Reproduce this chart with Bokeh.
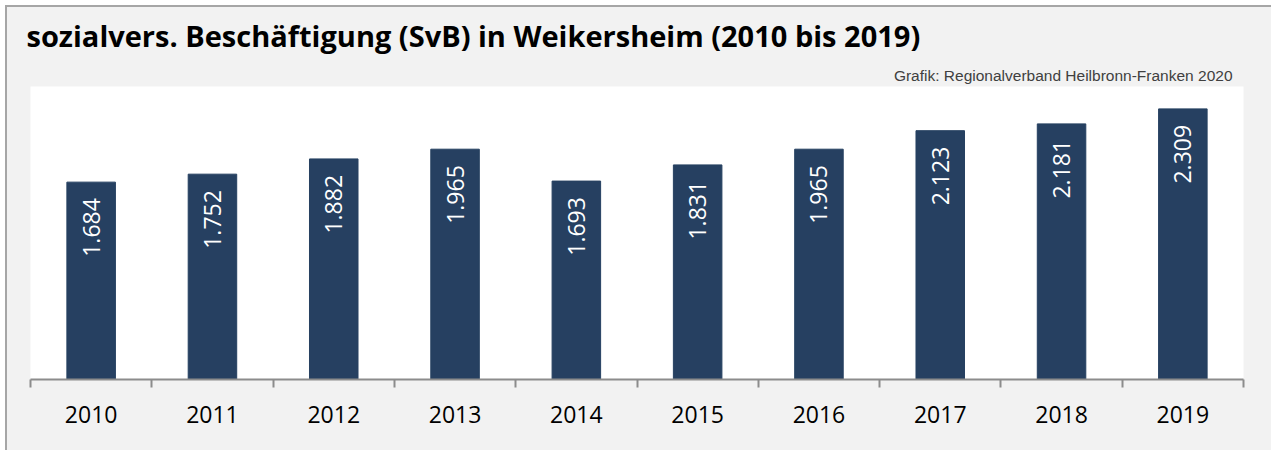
import numpy as np
from bokeh.plotting import figure
from bokeh.models import Range1d, LinearAxis, FixedTicker, Title, ColumnDataSource
from bokeh.core.properties import value
from bokeh.embed import file_html
from bokeh.resources import INLINE

years = ["2010", "2011", "2012", "2013", "2014", "2015", "2016", "2017", "2018", "2019"]
employees = [1684, 1752, 1882, 1965, 1693, 1831, 1965, 2123, 2181, 2309]
title_text = "sozialvers. Beschäftigung (SvB) in Weikersheim (2010 bis 2019)"
credit_text = "Grafik: Regionalverband Heilbronn-Franken 2020"

W, H = 1271, 450
FL, FR, FT, FB = 30, 28, 86, 71

xpos = np.arange(len(years)) + 0.5
labels = [f"{v:,}".replace(",", ".") for v in employees]
src = ColumnDataSource(dict(x=xpos, top=employees, lab=labels))

p = figure(width=W, height=H, output_backend="svg", toolbar_location=None,
           x_range=Range1d(0, len(years)), y_range=Range1d(0, 2500),
           x_axis_location=None, y_axis_location=None,
           min_border_left=FL, min_border_right=FR, min_border_top=FT, min_border_bottom=FB)
p.styles = {
    "background": ("linear-gradient(#a6a6a6, #a6a6a6) 5px 5px / 2px 100% no-repeat, "
                   "linear-gradient(#a6a6a6, #a6a6a6) 5px 5px / 100% 2px no-repeat, "
                   "linear-gradient(#f2f2f2, #f2f2f2) 5px 5px / 100% 100% no-repeat, "
                   "#ffffff")
}
p.border_fill_color = None
p.background_fill_color = "#ffffff"
p.outline_line_color = None
p.xgrid.visible = False
p.ygrid.visible = False

p.vbar(x="x", top="top", width=0.4, source=src, fill_color="#264061", line_color="#264061")
p.text(x="x", y="top", text="lab", source=src, angle=np.pi / 2, y_offset=16,
       text_align="right", text_baseline="middle", text_color="white",
       text_font=value("Open Sans"), text_font_size="23px")

ax = LinearAxis(ticker=FixedTicker(ticks=list(xpos), minor_ticks=list(range(len(years) + 1))))
ax.major_label_overrides = {float(x): y for x, y in zip(xpos, years)}
ax.major_tick_out = 0
ax.major_tick_in = 0
ax.minor_tick_out = 8
ax.minor_tick_in = 0
ax.minor_tick_line_color = "#8c8c8c"
ax.minor_tick_line_width = 2
ax.axis_line_color = "#8c8c8c"
ax.axis_line_width = 2
ax.major_label_text_font = "Open Sans"
ax.major_label_text_font_size = "23px"
ax.major_label_text_color = "black"
ax.major_label_standoff = 18
p.add_layout(ax, "below")

p.add_layout(Title(text=credit_text, align="right", text_font="Liberation Sans",
                   text_font_size="15.5px", text_font_style="normal", text_color="#404040",
                   offset=11, standoff=6), "above")
p.title.text = title_text
p.title.text_font = "Open Sans"
p.title.text_font_style = "bold"
p.title.text_font_size = "29px"
p.title.align = "left"
p.title.offset = -4
p.title.text_color = "black"
p.title.standoff = 13

open("out.html", "w").write(file_html(p, INLINE))
